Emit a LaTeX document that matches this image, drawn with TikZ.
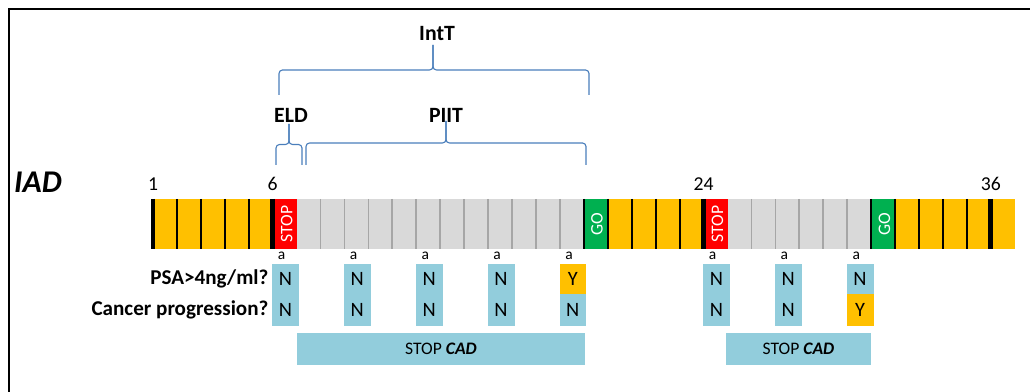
\documentclass[tikz,border=0pt]{standalone}
\usepackage{fontspec}
\setmainfont{Carlito}
\usetikzlibrary{positioning}

\definecolor{iadorange}{HTML}{FFC000}
\definecolor{iadred}{HTML}{FF0000}
\definecolor{iadgreen}{HTML}{00B050}
\definecolor{iadgray}{HTML}{D9D9D9}
\definecolor{iadline}{HTML}{A6A6A6}
\definecolor{iadblue}{HTML}{92CDDC}
\definecolor{bracecol}{HTML}{4A7EBB}

\tikzset{
  cell/.style={rectangle, inner sep=0pt, outer sep=0pt, minimum width=0.5985cm, minimum height=1.25cm},
  celltext/.style={rotate=90, text=white, inner sep=0pt, font=\fontsize{12.5}{14}\selectfont},
  num/.style={inner sep=0pt, anchor=base, font=\fontsize{14}{16}\selectfont},
  toplabel/.style={inner sep=0pt, font=\fontsize{15.5}{18}\selectfont\bfseries},
  rowlabel/.style={inner sep=0pt, font=\fontsize{15}{18}\selectfont\bfseries},
  ansbox/.style={rectangle, inner sep=0pt, outer sep=0pt, line width=0.3pt, minimum width=0.64cm, minimum height=0.765cm, font=\fontsize{14.5}{16}\selectfont},
  small/.style={inner sep=0pt, anchor=base, font=\fontsize{11}{12}\selectfont},
  cadbox/.style={rectangle, fill=iadblue, inner sep=0pt, minimum height=0.8cm, font=\fontsize{12.5}{14}\selectfont},
  brace/.style={bracecol, line width=0.8pt, rounded corners=2.5pt}
}

% curly bracket: left x, right x, tip x, base y, step
\newcommand{\topbrace}[5]{
  \draw[brace] (#1,#4) -- (#1,#4-#5) -- (#3,#4-#5) -- (#3,#4-2*#5);
  \draw[brace] (#2,#4) -- (#2,#4-#5) -- (#3,#4-#5) -- (#3,#4-2*#5);
}

\begin{document}
\begin{tikzpicture}[x=0.025cm, y=-0.025cm]
\useasboundingbox (0,0) rectangle (1030,392);

% Frame
\draw[line width=1.8pt] (9,392) -- (9,9) -- (1030,9);

% Months bar
\foreach \i in {1,2,3,4,5,20,21,22,23,32,33,34,35,36}
  \node[cell, fill=iadorange] (c\i) at ({153+(\i-0.5)*23.94},224) {};
\foreach \i in {7,8,9,10,11,12,13,14,15,16,17,18,25,26,27,28,29,30}
  \node[cell, fill=iadgray] (c\i) at ({153+(\i-0.5)*23.94},224) {};
\foreach \i in {6,24} {
  \node[cell, fill=iadred] (c\i) at ({153+(\i-0.5)*23.94},224) {};
  \node[celltext] at ([xshift=0.05cm]c\i.center) {STOP};
}
\foreach \i in {19,31} {
  \node[cell, fill=iadgreen] (c\i) at ({153+(\i-0.5)*23.94},224) {};
  \node[celltext] at ([xshift=0.03cm]c\i.center) {GO};
}

% Separators
\foreach \i in {8,9,10,11,12,13,14,15,16,17,18,26,27,28,29,30}
  \draw[iadline, line width=1.3pt] (c\i.north west) -- (c\i.south west);
\foreach \i in {2,3,4,5,19,20,21,22,23,31,32,33,34,35}
  \draw[line width=1.2pt] (c\i.north west) -- (c\i.south west);
\foreach \i in {1,6,24,36}
  \draw[line width=3.5pt] (c\i.north west) -- (c\i.south west);

% Month numbers
\foreach \i in {1,6,24,36}
  \node[num] (m\i) at ([yshift=0.2cm]c\i.north west) {\i};

\node[inner sep=0pt, font=\fontsize{22.5}{26}\selectfont\bfseries\itshape] (iad) at (38,182) {IAD};

% Braces
\node[toplabel] (intt) at (437,34) {IntT};
\node[toplabel] (eld) at (291,115) {ELD};
\node[toplabel] (piit) at (446,115) {PIIT};
\topbrace{279}{589}{433}{95}{25}
\topbrace{276}{302}{289}{165}{20.5}
\topbrace{306}{586}{446}{165}{22}

% Checks
\foreach \i/\ps/\cp/\pf/\cf [count=\k] in {6/N/N/iadblue/iadblue, 9/N/N/iadblue/iadblue,
    12/N/N/iadblue/iadblue, 15/N/N/iadblue/iadblue, 18/Y/N/iadorange/iadblue,
    24/N/N/iadblue/iadblue, 27/N/N/iadblue/iadblue, 30/N/Y/iadblue/iadorange} {
  \node[ansbox, fill=\pf, draw=\pf, anchor=north west] (p\k) at (c\i.west |- 0,264) {\ps};
  \node[ansbox, fill=\cf, draw=\cf, anchor=north] (q\k) at (p\k.south) {\cp};
  \node[small] (a\k) at ([xshift=0.225cm, yshift=0.1cm]p\k.north west) {a};
}

\node[rowlabel, left=0.1cm of p1] (psa) {PSA>4ng/ml?};
\node[rowlabel, left=0.1cm of q1] (prog) {Cancer progression?};

% Stop CAD periods
\node[cadbox, minimum width=7.2cm] (cad1) at (441,349) {STOP \textbf{\textit{CAD}}};
\node[cadbox, minimum width=3.625cm] (cad2) at (798.5,349) {STOP \textbf{\textit{CAD}}};
\end{tikzpicture}
\end{document}
